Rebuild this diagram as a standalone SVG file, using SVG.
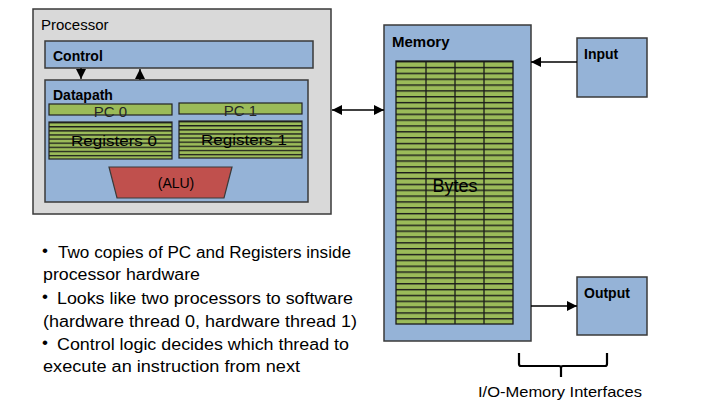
<svg xmlns="http://www.w3.org/2000/svg" width="710" height="402" viewBox="0 0 710 402">
<style>
.box{stroke:#3a3a3a;stroke-width:1.5}
.blue{fill:#95b3d7}
.green{fill:#9bbb59;stroke:#222;stroke-width:1.2}
.t{font-family:"Liberation Sans",Arial,sans-serif;fill:#000}
.b{font-weight:bold;font-size:14px}
.lbl{font-size:15px;fill:#262626}
.bul{font-size:16px}
.dot{font-size:17px}
.con{stroke:#000;stroke-width:1.3;fill:none}
</style>
<defs>
<pattern id="mem" patternUnits="userSpaceOnUse" x="0" y="61" width="710" height="5.844">
<rect x="0" y="0" width="710" height="5.844" fill="#9bbb59"/>
<rect x="0" y="0" width="710" height="1.4" fill="#1a1a1a"/>
</pattern>
<pattern id="reg0" patternUnits="userSpaceOnUse" x="0" y="122" width="710" height="4.11">
<rect x="0" y="0" width="710" height="4.11" fill="#9bbb59"/>
<rect x="0" y="0" width="710" height="1.3" fill="#1a1a1a"/>
</pattern>
<pattern id="reg1" patternUnits="userSpaceOnUse" x="0" y="121" width="710" height="4.11">
<rect x="0" y="0" width="710" height="4.11" fill="#9bbb59"/>
<rect x="0" y="0" width="710" height="1.3" fill="#1a1a1a"/>
</pattern>
<marker id="ah" viewBox="0 0 10 10" refX="10" refY="5" markerWidth="11" markerHeight="10" markerUnits="userSpaceOnUse" orient="auto-start-reverse">
<path d="M0,0 L10,5 L0,10 z" fill="#000"/>
</marker>
</defs>

<g id="processor">
<rect x="33" y="9" width="298" height="205" fill="#d9d9d9" class="box"/>
<text class="t" x="41" y="30" font-size="15">Processor</text>
</g>

<g id="control">
<rect x="45" y="41" width="268" height="27" class="box blue"/>
<text class="t b" x="53" y="61">Control</text>
</g>

<g id="datapath">
<rect x="45" y="80" width="263" height="122" class="box blue"/>
<text class="t b" x="53" y="100">Datapath</text>
</g>

<g id="pc0">
<rect x="49" y="104" width="123" height="11" class="green"/>
<text class="t lbl" x="110.5" y="117" text-anchor="middle">PC 0</text>
</g>
<g id="pc1">
<rect x="179" y="103" width="123" height="11" class="green"/>
<text class="t lbl" x="240.5" y="116" text-anchor="middle">PC 1</text>
</g>

<g id="registers0">
<rect x="49" y="122" width="123" height="37" fill="url(#reg0)" stroke="#222" stroke-width="1.2"/>
<text class="t" x="114" y="146" font-size="15" fill="#262626" text-anchor="middle" textLength="86" lengthAdjust="spacingAndGlyphs">Registers 0</text>
</g>
<g id="registers1">
<rect x="179" y="121" width="123" height="37" fill="url(#reg1)" stroke="#222" stroke-width="1.2"/>
<text class="t" x="244" y="145" font-size="15" fill="#262626" text-anchor="middle" textLength="86" lengthAdjust="spacingAndGlyphs">Registers 1</text>
</g>

<g id="alu">
<polygon points="109,167 232,167 224,198 117,198" fill="#c0504d" stroke="#3a3a3a" stroke-width="1.2"/>
<text class="t" x="176" y="188" font-size="14" fill="#1a1a1a" text-anchor="middle">(ALU)</text>
</g>

<g id="memory">
<rect x="384" y="25" width="147" height="316" class="box blue"/>
<text class="t" x="392" y="47" font-size="15" font-weight="bold">Memory</text>
<rect x="396" y="61" width="117" height="263" fill="url(#mem)" stroke="#1a1a1a" stroke-width="1.3"/>
<path d="M426,61 V324 M455,61 V324 M484,61 V324" stroke="#1a1a1a" stroke-width="1.3"/>
<text class="t" x="455" y="192" font-size="18" fill="#262626" text-anchor="middle">Bytes</text>
</g>

<g id="input">
<rect x="577" y="38" width="70" height="59" class="box blue"/>
<text class="t b" x="584" y="59">Input</text>
</g>

<g id="output">
<rect x="577" y="277" width="70" height="58" class="box blue"/>
<text class="t b" x="584" y="298">Output</text>
</g>

<g id="connectors">
<line x1="81" y1="68" x2="81" y2="79" class="con" marker-end="url(#ah)"/>
<line x1="140" y1="80" x2="140" y2="69" class="con" marker-end="url(#ah)"/>
<line x1="332" y1="110" x2="384" y2="110" class="con" marker-start="url(#ah)" marker-end="url(#ah)"/>
<line x1="577" y1="62" x2="531" y2="62" class="con" marker-end="url(#ah)"/>
<line x1="531" y1="306" x2="577" y2="306" class="con" marker-end="url(#ah)"/>
</g>

<g id="brace">
<path d="M519,353 V364 Q519,366 521,366 H559 Q561,366 561,368 V377 M561,368 Q561,366 563,366 H605 Q607,366 607,364 V353" fill="none" stroke="#000" stroke-width="2.2"/>
<text class="t" x="560" y="397" font-size="15" text-anchor="middle" textLength="164" lengthAdjust="spacingAndGlyphs">I/O-Memory Interfaces</text>
</g>

<g id="notes">
<text class="t dot" x="42" y="256">•</text>
<text class="t bul" x="58" y="258" textLength="293" lengthAdjust="spacingAndGlyphs">Two copies of PC and Registers inside</text>
<text class="t bul" x="43" y="280" textLength="157" lengthAdjust="spacingAndGlyphs">processor hardware</text>
<text class="t dot" x="42" y="302">•</text>
<text class="t bul" x="57" y="304" textLength="296" lengthAdjust="spacingAndGlyphs">Looks like two processors to software</text>
<text class="t bul" x="43" y="327" textLength="314" lengthAdjust="spacingAndGlyphs">(hardware thread 0, hardware thread 1)</text>
<text class="t dot" x="42" y="348">•</text>
<text class="t bul" x="57" y="350" textLength="292" lengthAdjust="spacingAndGlyphs">Control logic decides which thread to</text>
<text class="t bul" x="43" y="372" textLength="257" lengthAdjust="spacingAndGlyphs">execute an instruction from next</text>
</g>
</svg>
